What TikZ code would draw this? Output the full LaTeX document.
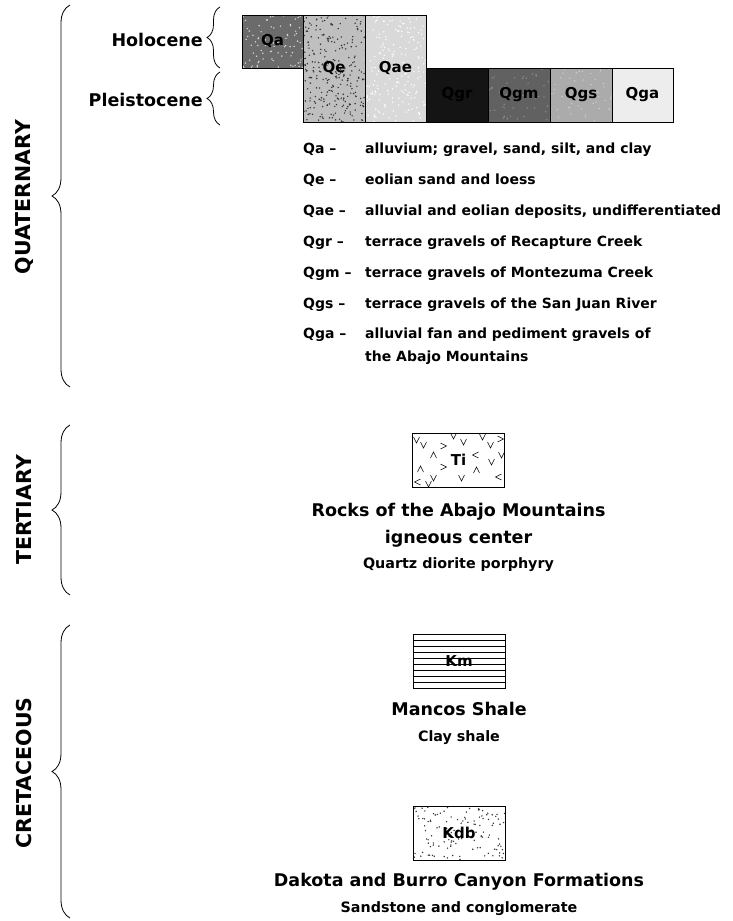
\documentclass[tikz,border=0pt]{standalone}
\usepackage{fontspec}
\setmainfont{DejaVu Sans}
\usepackage{tikz}
\usetikzlibrary{decorations.pathreplacing}
\newcommand{\boxfont}{\fontsize{15}{17}\selectfont\bfseries}
\newcommand{\legfont}{\fontsize{14}{16}\selectfont\bfseries}
\newcommand{\headfont}{\fontsize{17.5}{20}\selectfont\bfseries}
\newcommand{\notefont}{\fontsize{14.3}{17}\selectfont\bfseries}
\newcommand{\erafont}{\fontsize{20.5}{24}\selectfont\bfseries}

\begin{document}
\begin{tikzpicture}[x=1pt, y=-1pt,
    unitbox/.style={draw, line width=1pt, inner sep=0pt, minimum width=62pt, font=\boxfont},
    speck/.style 2 args={path picture={\foreach \k in {1,...,#2}
        \fill[#1] ([xshift=rnd*95pt, yshift=rnd*110pt]path picture bounding box.south west) circle (0.8pt);}},
    legendtext/.style={anchor=base west, inner sep=0pt, font=\legfont},
    heading/.style={anchor=base, inner sep=0pt, font=\headfont},
    subnote/.style={anchor=base, inner sep=0pt, font=\notefont},
    epoch/.style={anchor=east, inner sep=0pt, font=\headfont},
    era/.style={rotate=90, inner sep=0pt, font=\erafont},
    bigbrace/.style={decorate, decoration={brace, amplitude=18pt}, line width=0.8pt},
    smallbrace/.style={decorate, decoration={brace, amplitude=13pt}, line width=0.8pt}]
\useasboundingbox (0,0) rectangle (732,921);
\pgfmathsetseed{11}

% eras
\node (quat) at (24,197) [era] {QUATERNARY};
\node (tert) at (24,510) [era] {TERTIARY};
\node (cret) at (24,773) [era] {CRETACEOUS};
\coordinate (quattop) at (70,5);
\coordinate (quatbot) at (70,387);
\coordinate (terttop) at (70,425);
\coordinate (tertbot) at (70,595);
\coordinate (crettop) at (70,625);
\coordinate (cretbot) at (70,918);
\draw[bigbrace] (quatbot) -- (quattop);
\draw[bigbrace] (tertbot) -- (terttop);
\draw[bigbrace] (cretbot) -- (crettop);

% epochs
\node (holo) at (203,40) [epoch] {Holocene};
\node (pleis) at (203,100) [epoch] {Pleistocene};
\coordinate (holotop) at (220,7);
\coordinate (holobot) at (220,68);
\coordinate (pleistop) at (220,72);
\coordinate (pleisbot) at (220,125);
\draw[smallbrace] (holobot) -- (holotop);
\draw[smallbrace] (pleisbot) -- (pleistop);

% quaternary units
\node (qa) at (272.5,41.5) [unitbox, minimum width=61pt, minimum height=53pt, fill=black!58, speck={white!85!black}{260}] {Qa};
\node (qe) at (334,68.5) [unitbox, minimum height=107pt, fill=black!25, speck={black!80}{420}] {Qe};
\node (qae) at (395.5,68.5) [unitbox, minimum width=61pt, minimum height=107pt, fill=black!15, speck={white}{300}] {Qae};
\node (qgr) at (457,95) [unitbox, minimum height=54pt, fill=black!92, text=black] {Qgr};
\node (qgm) at (519,95) [unitbox, minimum height=54pt, fill=black!62, speck={black!45}{200}] {Qgm};
\node (qgs) at (581,95) [unitbox, minimum height=54pt, fill=black!33, speck={black!20}{160}] {Qgs};
\node (qga) at (642.5,95) [unitbox, minimum width=61pt, minimum height=54pt, fill=black!7] {Qga};

% legend
\node (keyqa) at (303,153) [legendtext] {Qa --};
\node (descqa) at (365,153) [legendtext] {alluvium; gravel, sand, silt, and clay};
\node (keyqe) at (303,184) [legendtext] {Qe --};
\node (descqe) at (365,184) [legendtext] {eolian sand and loess};
\node (keyqae) at (303,215) [legendtext] {Qae --};
\node (descqae) at (365,215) [legendtext] {alluvial and eolian deposits, undifferentiated};
\node (keyqgr) at (303,246) [legendtext] {Qgr --};
\node (descqgr) at (365,246) [legendtext] {terrace gravels of Recapture Creek};
\node (keyqgm) at (303,277) [legendtext] {Qgm --};
\node (descqgm) at (365,277) [legendtext] {terrace gravels of Montezuma Creek};
\node (keyqgs) at (303,308) [legendtext] {Qgs --};
\node (descqgs) at (365,308) [legendtext] {terrace gravels of the San Juan River};
\node (keyqga) at (303,338) [legendtext] {Qga --};
\node (descqga) at (365,338) [legendtext] {alluvial fan and pediment gravels of};
\node (descqgb) at (365,361) [legendtext] {the Abajo Mountains};

% tertiary
\node (ti) at (458.5,460) [unitbox, minimum width=92pt, minimum height=54pt] {Ti};
\foreach \dx/\dy/\a in {-35/-15/0, -15/-14/90, 5/-18/0, 32/-15/0, 42/-21/90, -25/-5/180,
    17/-5/-90, 33/2/0, -38/9/180, -15/7/90, 18/10/180, -25/18/0, 3/18/0, 40/17/-90,
    -41/22/-90, -5/-24/0, 43/-5/0, -42/-20/0, 24/-23/0, -30/24/0}
  \draw[line width=0.5pt, shift={(ti.center)}, shift={(\dx,\dy)}, rotate=\a] (-3,-3) -- (0,3) -- (3,-3);
\node (tiname) at (458.5,516) [heading] {Rocks of the Abajo Mountains};
\node (tiname2) at (458.5,543) [heading] {igneous center};
\node (tirock) at (458.5,568) [subnote] {Quartz diorite porphyry};

% cretaceous
\node (km) at (459,661) [unitbox, minimum width=92pt, minimum height=54pt,
    path picture={\foreach \k in {1,...,8}
      \draw[line width=0.6pt] ([yshift=-\k*6pt]path picture bounding box.north west) -- ([yshift=-\k*6pt]path picture bounding box.north east);}] {Km};
\node (kmname) at (459,715) [heading] {Mancos Shale};
\node (kmrock) at (459,741) [subnote] {Clay shale};

\node (kdb) at (459,833) [unitbox, minimum width=92pt, minimum height=54pt, speck={black!80}{230}] {Kdb};
\node (kdbname) at (459,886) [heading] {Dakota and Burro Canyon Formations};
\node (kdbrock) at (459,912) [subnote] {Sandstone and conglomerate};
\end{tikzpicture}
\end{document}
